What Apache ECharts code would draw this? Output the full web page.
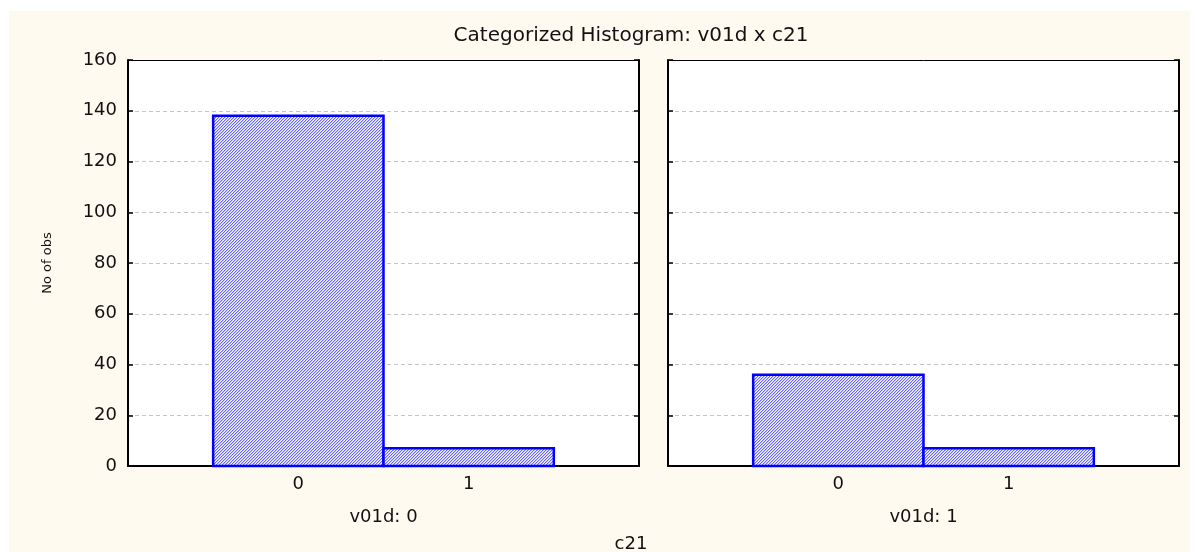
<!DOCTYPE html>
<html>
<head>
<meta charset="utf-8">
<title>Categorized Histogram: v01d x c21</title>
<script src="https://cdn.jsdelivr.net/npm/echarts@6/dist/echarts.min.js"></script>
<style>
  html, body { margin: 0; padding: 0; background: #ffffff; }
  #paper { position: absolute; left: 9px; top: 11px; width: 1181px; height: 541px; background: #fffaf0; }
  #chart { position: absolute; left: 0; top: 0; width: 1195px; height: 552px; }
</style>
</head>
<body>
<div id="paper"></div>
<div id="chart"></div>
<script>
// c21 categories and observation counts for each v01d group
const c21Values = [0, 1];
const countsV01d0 = [138, 7];
const countsV01d1 = [36, 7];
const panelTitles = ['v01d: 0', 'v01d: 1'];
const yTicks = [0, 20, 40, 60, 80, 100, 120, 140, 160];

// fine diagonal hatch fill for histogram bars
function hatchPattern() {
  const c = document.createElement('canvas');
  c.width = 3; c.height = 3;
  const g = c.getContext('2d');
  g.fillStyle = '#f4f4ff';
  g.fillRect(0, 0, 3, 3);
  g.fillStyle = '#6666ff';
  for (let i = 0; i < 3; i++) g.fillRect(i, 2 - i, 1, 1);
  g.fillStyle = '#c4c4ff';
  for (let i = 0; i < 3; i++) g.fillRect(i, (3 - i) % 3, 1, 1);
  return c;
}
const hatch = { image: hatchPattern(), repeat: 'repeat' };

const grids = [
  { left: 128, top: 60, width: 511, height: 406 },
  { left: 668, top: 60, width: 511, height: 406 }
];

const fontFamily = 'DejaVu Sans, Arial, sans-serif';

function binData(counts) {
  return c21Values.map((v, i) => [v - 0.5, v + 0.5, counts[i]]);
}

const xAxes = [];
const yAxes = [];
const series = [];
[countsV01d0, countsV01d1].forEach((counts, gi) => {
  // bottom axis with category ticks and the panel label
  xAxes.push({
    gridIndex: gi, type: 'value', position: 'bottom',
    min: -1, max: 2, interval: 1,
    name: panelTitles[gi], nameLocation: 'middle', nameGap: 42,
    nameTextStyle: { fontFamily, fontSize: 18, color: '#111', verticalAlign: 'top' },
    axisLine: { show: true, onZero: false, lineStyle: { color: '#000', width: 2 } },
    axisTick: { show: true, inside: true, length: 4, customValues: c21Values, lineStyle: { color: '#000', width: 2 } },
    axisLabel: { show: true, margin: 9, customValues: c21Values, fontFamily, fontSize: 18, color: '#111' },
    splitLine: { show: false }
  });
  // top frame edge
  xAxes.push({
    gridIndex: gi, type: 'value', position: 'top',
    min: -1, max: 2, interval: 1,
    axisLine: { show: true, onZero: false, lineStyle: { color: '#000', width: 1 } },
    axisTick: { show: false }, axisLabel: { show: false }, splitLine: { show: false }
  });
  // left value axis
  yAxes.push({
    gridIndex: gi, type: 'value', position: 'left',
    min: 0, max: 160, interval: 20,
    name: gi === 0 ? 'No of obs' : '', nameLocation: 'middle', nameGap: 74,
    nameTextStyle: { fontFamily, fontSize: 13, color: '#111' },
    axisLine: { show: true, onZero: false, lineStyle: { color: '#000', width: 2 } },
    axisTick: { show: true, inside: true, length: 5, lineStyle: { color: '#000', width: 1.5 } },
    axisLabel: { show: gi === 0, margin: 11, fontFamily, fontSize: 18, color: '#111',
      customValues: yTicks },
    splitLine: { show: true, lineStyle: { color: '#c4c4c4', type: [4, 3], width: 1 } }
  });
  // right mirrored axis
  yAxes.push({
    gridIndex: gi, type: 'value', position: 'right',
    min: 0, max: 160, interval: 20,
    axisLine: { show: true, onZero: false, lineStyle: { color: '#000', width: 2 } },
    axisTick: { show: true, inside: true, length: 5, lineStyle: { color: '#000', width: 1.5 } },
    axisLabel: { show: false }, splitLine: { show: false }
  });
  series.push({
    type: 'custom',
    xAxisIndex: gi * 2, yAxisIndex: gi * 2,
    data: binData(counts),
    renderItem: function (params, api) {
      const p0 = api.coord([api.value(0), api.value(2)]);
      const p1 = api.coord([api.value(1), 0]);
      return {
        type: 'rect',
        shape: { x: p0[0], y: p0[1], width: p1[0] - p0[0], height: p1[1] - p0[1] },
        style: { fill: hatch, stroke: '#0000ff', lineWidth: 2.5 }
      };
    },
    encode: { x: [0, 1], y: 2 },
    z: 3
  });
});

const chart = echarts.init(document.getElementById('chart'), null, { renderer: 'canvas' });
chart.setOption({
  backgroundColor: 'transparent',
  animation: false,
  title: [
    { text: 'Categorized Histogram: v01d x c21', left: 626, top: 21, textAlign: 'center',
      textStyle: { fontFamily, fontSize: 20, fontWeight: 'normal', color: '#111' } },
    { text: 'c21', left: 626, top: 530, textAlign: 'center',
      textStyle: { fontFamily, fontSize: 18, fontWeight: 'normal', color: '#111' } }
  ],
  grid: grids.map(g => Object.assign({ show: true, backgroundColor: '#ffffff', borderWidth: 0 }, g)),
  xAxis: xAxes,
  yAxis: yAxes,
  series: series
});
</script>
</body>
</html>
